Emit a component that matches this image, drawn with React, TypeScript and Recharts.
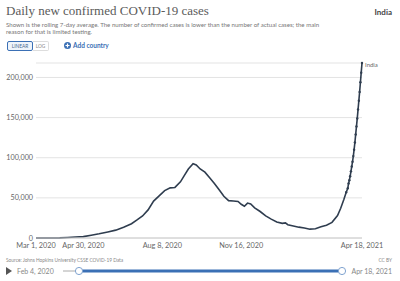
import React from "react";
import { LineChart, Line, XAxis, YAxis, CartesianGrid, LabelList } from "recharts";

const dates = [
  "2020-03-01", "2020-03-15", "2020-03-31", "2020-04-10", "2020-04-20", "2020-04-30",
  "2020-05-10", "2020-05-20", "2020-05-31", "2020-06-10", "2020-06-20", "2020-06-30",
  "2020-07-07", "2020-07-14", "2020-07-21", "2020-07-28", "2020-08-04", "2020-08-11",
  "2020-08-18", "2020-08-24", "2020-08-31", "2020-09-05", "2020-09-10", "2020-09-16",
  "2020-09-20", "2020-09-25", "2020-10-01", "2020-10-07", "2020-10-13", "2020-10-19",
  "2020-10-25", "2020-10-31", "2020-11-06", "2020-11-12", "2020-11-16", "2020-11-20",
  "2020-11-24", "2020-11-28", "2020-12-03", "2020-12-10", "2020-12-17", "2020-12-24",
  "2020-12-31", "2021-01-07", "2021-01-11", "2021-01-14", "2021-01-21", "2021-01-28",
  "2021-02-04", "2021-02-11", "2021-02-18", "2021-02-25", "2021-03-04", "2021-03-11",
  "2021-03-18", "2021-03-22", "2021-03-26", "2021-03-29", "2021-03-31",
  "2021-04-01", "2021-04-02", "2021-04-03", "2021-04-04", "2021-04-05", "2021-04-06",
  "2021-04-07", "2021-04-08", "2021-04-09", "2021-04-10", "2021-04-11", "2021-04-12",
  "2021-04-13", "2021-04-14", "2021-04-15", "2021-04-16", "2021-04-17", "2021-04-18",
];

const cases = [
  0, 15, 150, 600, 1200, 1700,
  3500, 5200, 7500, 9800, 13500, 17800,
  22500, 27500, 35000, 46000, 52500, 59000,
  62500, 63000, 70000, 78000, 86000, 92500,
  91000, 86000, 82000, 75000, 68000, 60000,
  52000, 46500, 46000, 45500, 42000, 39500,
  43500, 42500, 37500, 33000, 27500, 23500,
  20000, 18200, 18800, 16500, 15000, 13500,
  12500, 11000, 11500, 14000, 16000, 19500,
  28000, 37000, 48000, 57000, 62000,
  68000, 72000, 77000, 83000, 89000, 95000,
  102000, 110000, 119000, 129000, 139000, 149000,
  160000, 171000, 182000, 194000, 206000, 218000,
];

const tickDates = ["2020-03-01", "2020-04-30", "2020-08-08", "2020-11-16", "2021-04-18"];
const tickLabels = ["Mar 1, 2020", "Apr 30, 2020", "Aug 8, 2020", "Nov 16, 2020", "Apr 18, 2021"];
const yTicks = [0, 50000, 100000, 150000, 200000];

const start = Date.parse(dates[0]);
const dayOf = (d: string) => Math.round((Date.parse(d) - start) / 86400000);

const data = dates.map((d, i) => ({ day: dayOf(d), cases: cases[i] }));
const xTicks = tickDates.map(dayOf);

const FONT = "Lato, 'Open Sans', sans-serif";
const LINE = "#2f3d4f";
const BLUE = "#3b70b5";

const lastIndex = data.length - 1;
const dotFrom = dates.indexOf("2021-03-29");

function EndLabel(props: any) {
  const { x, y, index } = props;
  if (index !== lastIndex) return null;
  return (
    <text x={x + 3} y={y + 4} fontSize={6} fill="#666" fontFamily={FONT}>
      India
    </text>
  );
}

function SmallDot(props: any) {
  const { cx, cy, index } = props;
  if (index < dotFrom) return <g key={index} />;
  return <circle key={index} cx={cx} cy={cy} r={1.2} fill={LINE} />;
}

export default function App() {
  return (
    <div
      style={{
        position: "fixed",
        top: 0,
        left: 0,
        width: 400,
        height: 281,
        background: "#fff",
        fontFamily: FONT,
        overflow: "hidden",
      }}
    >
      <div
        style={{
          position: "absolute",
          left: 6,
          top: 3,
          fontFamily: "'Liberation Serif', serif",
          fontSize: 13,
          color: "#5b5b5b",
          whiteSpace: "nowrap",
        }}
      >
        Daily new confirmed COVID-19 cases
      </div>
      <div
        style={{
          position: "absolute",
          right: 8,
          top: 7,
          fontSize: 8,
          fontWeight: 700,
          color: "#444",
        }}
      >
        India
      </div>
      <div
        style={{
          position: "absolute",
          left: 6,
          top: 21,
          fontSize: 6.1,
          lineHeight: "7px",
          color: "#777",
          whiteSpace: "nowrap",
        }}
      >
        Shown is the rolling 7-day average. The number of confirmed cases is lower than the number of actual cases; the main
        <br />
        reason for that is limited testing.
      </div>

      <div
        style={{
          position: "absolute",
          left: 7,
          top: 41,
          height: 10,
          display: "flex",
          fontSize: 4.8,
          color: "#888",
        }}
      >
        <div
          style={{
            width: 24,
            border: `1px solid ${BLUE}`,
            borderRadius: 2,
            display: "flex",
            alignItems: "center",
            justifyContent: "center",
            color: "#4a6a90",
            background: "#eef4fb",
          }}
        >
          LINEAR
        </div>
        <div
          style={{
            width: 15,
            border: "1px solid #ddd",
            borderLeft: "none",
            borderRadius: "0 2px 2px 0",
            display: "flex",
            alignItems: "center",
            justifyContent: "center",
          }}
        >
          LOG
        </div>
      </div>
      <div
        style={{
          position: "absolute",
          left: 64,
          top: 42,
          display: "flex",
          alignItems: "center",
          fontSize: 6.5,
          fontWeight: 700,
          color: BLUE,
        }}
      >
        <svg width={7} height={7} style={{ marginRight: 2 }}>
          <circle cx={3.5} cy={3.5} r={3.5} fill={BLUE} />
          <path d="M3.5 1.5 V5.5 M1.5 3.5 H5.5" stroke="#fff" strokeWidth={1.2} />
        </svg>
        Add country
      </div>

      <div style={{ position: "absolute", left: 0, top: 0 }}>
        <LineChart
          width={400}
          height={253}
          data={data}
          margin={{ top: 63, right: 38, left: 0, bottom: 0 }}
        >
          <CartesianGrid horizontal vertical={false} stroke="#e3e3e3" />
          <XAxis
            dataKey="day"
            type="number"
            domain={[0, dayOf(dates[lastIndex])]}
            ticks={xTicks}
            tickFormatter={(v: number) => tickLabels[xTicks.indexOf(v)] ?? ""}
            tick={{ fontSize: 7.3, fill: "#666", fontFamily: FONT }}
            tickLine={false}
            tickSize={0}
            axisLine={{ stroke: "#ccc" }}
            height={15}
            interval={0}
            tickMargin={5}
          />
          <YAxis
            type="number"
            domain={[0, 218000]}
            ticks={yTicks}
            tickFormatter={(v: number) => v.toLocaleString("en-US")}
            tick={{ fontSize: 7.2, fill: "#666", fontFamily: FONT }}
            tickLine={false}
            tickSize={0}
            axisLine={false}
            width={36}
            tickMargin={3}
          />
          <Line
            type="linear"
            dataKey="cases"
            stroke={LINE}
            strokeWidth={1.6}
            dot={SmallDot}
            isAnimationActive={false}
          >
            <LabelList dataKey="cases" content={EndLabel} />
          </Line>
        </LineChart>
      </div>

      <div
        style={{
          position: "absolute",
          left: 6,
          top: 257,
          fontSize: 4.8,
          color: "#888",
          whiteSpace: "nowrap",
        }}
      >
        Source: Johns Hopkins University CSSE COVID-19 Data
      </div>
      <div
        style={{
          position: "absolute",
          right: 8,
          top: 257,
          fontSize: 4.8,
          color: "#888",
        }}
      >
        CC BY
      </div>

      <svg
        width={400}
        height={14}
        style={{ position: "absolute", left: 0, top: 264 }}
      >
        <path d="M6 3 L12 7 L6 11 Z" fill="#555" />
        <text x={17} y={9.5} fontSize={7} fill="#888" fontFamily={FONT}>
          Feb 4, 2020
        </text>
        <line x1={63} y1={7} x2={343} y2={7} stroke="#aaa" strokeWidth={1} />
        <line x1={79} y1={7} x2={343} y2={7} stroke={BLUE} strokeWidth={3} />
        <circle cx={79} cy={7} r={3.6} fill="#fff" stroke="#7fa3d0" strokeWidth={1} />
        <circle cx={342} cy={7} r={3.6} fill="#fff" stroke="#7fa3d0" strokeWidth={1} />
        <text x={392} y={9.5} fontSize={7} fill="#888" fontFamily={FONT} textAnchor="end">
          Apr 18, 2021
        </text>
      </svg>
    </div>
  );
}
